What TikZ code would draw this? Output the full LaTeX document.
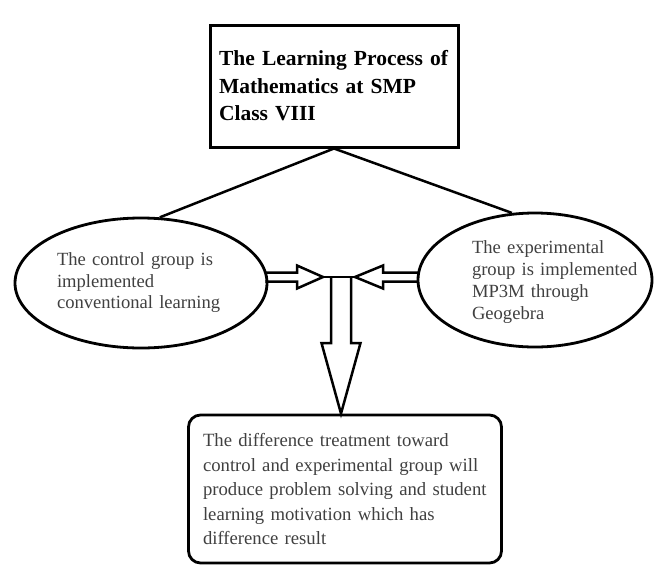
\documentclass[tikz,border=0pt]{standalone}
\usepackage{fontspec}
\setmainfont{Liberation Serif}
\usetikzlibrary{shapes,calc}
\tikzset{titlebox/.style={rectangle,draw,line width=3pt,minimum width=248pt,minimum height=122pt,text width=230pt,inner xsep=9pt,align=left,font=\bfseries\fontsize{21.5}{27.5}\selectfont}}
\tikzset{grp/.style={ellipse,draw,line width=2.8pt,inner sep=0pt},grptext/.style={text width=168pt,align=left,inner sep=0pt,text=black!75,font=\fontsize{18.6}{21.5}\selectfont}}
\tikzset{resbox/.style={rectangle,rounded corners=12pt,draw,line width=2.8pt,minimum width=313pt,minimum height=148pt,text width=284pt,inner xsep=0pt,align=left,text=black!75,font=\fontsize{18.7}{24.5}\selectfont}}
\tikzset{blk/.style={line width=2.5pt,line join=miter}}
\begin{document}
\begin{tikzpicture}[x=1pt,y=-1pt]
      \useasboundingbox (0,0) rectangle (654,566);
      \node[titlebox] (title) at (334,86) {The Learning Process of\\Mathematics at SMP\\Class VIII};
      \node[grp,grptext,minimum width=252pt,minimum height=130pt] (ctrl) at (141,283) {The control group is\\implemented\\conventional learning};
      \node[grp,minimum width=234pt,minimum height=134pt] (expt) at (535,280) {};
      \node[grptext,text width=166pt,font=\fontsize{18.6}{22}\selectfont] (expttext) at (555,282) {The experimental\\group is implemented\\MP3M through\\Geogebra};
      \node[resbox] (result) at (345,489) {The difference treatment toward\\control and experimental group will\\produce problem solving and student\\learning motivation which has\\difference result};
      \coordinate (hub) at (341,277);
      \coordinate (ltip) at ($(hub)+(-18,0)$);
      \coordinate (rtip) at ($(hub)+(14,0)$);
      \draw[line width=2.5pt] (title.south) edge (ctrl.74) edge (expt.109);
      % block arrows into the hub
      \draw[blk] ($(ctrl.east|-hub)+(-3,-4.5)$) -- ($(ltip)+(-26,-4.5)$) -- ($(ltip)+(-26,-11.5)$) -- (ltip)
      -- ($(ltip)+(-26,11.5)$) -- ($(ltip)+(-26,4.5)$) -- ($(ctrl.east|-hub)+(-3,4.5)$);
      \draw[blk] ($(expt.west|-hub)+(2,-4.5)$) -- ($(rtip)+(28,-4.5)$) -- ($(rtip)+(28,-11.5)$) -- (rtip)
      -- ($(rtip)+(28,11.5)$) -- ($(rtip)+(28,4.5)$) -- ($(expt.west|-hub)+(2,4.5)$);
      \draw[blk] (ltip) -- (rtip);
      \draw[blk] ($(hub)+(-10,0)$) -- ($(hub)+(-10,66)$) -- ($(hub)+(-19.5,66)$) -- (hub|-result.north)
      -- ($(hub)+(19.5,66)$) -- ($(hub)+(10,66)$) -- ($(hub)+(10,0)$);
\end{tikzpicture}
\end{document}
